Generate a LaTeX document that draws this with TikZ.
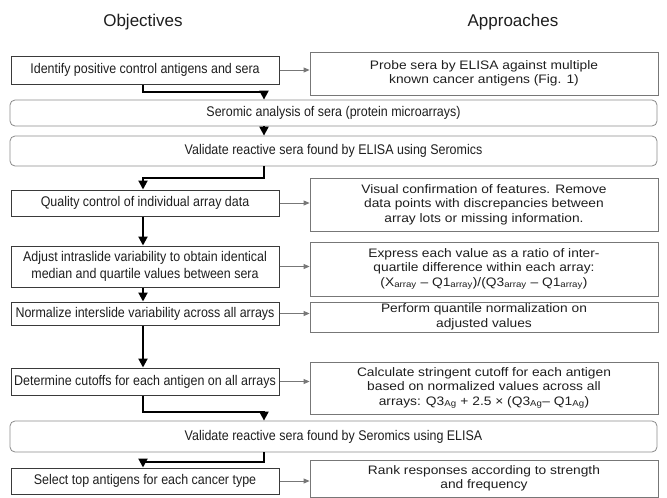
\documentclass[tikz,border=0pt]{standalone}
\usepackage{fontspec}
\setmainfont{Liberation Sans}
\newfontfamily\lfont{Liberation Sans}[FakeStretch=0.89]
\newfontfamily\rfont{Liberation Sans}[FakeStretch=1.12]
\usetikzlibrary{arrows.meta}
\definecolor{txt}{HTML}{1E1E1E}
\definecolor{lborder}{HTML}{3A3A3A}
\definecolor{rborder}{HTML}{777777}
\definecolor{wborder}{HTML}{8A8A8A}
\tikzset{
  lbox/.style={draw=lborder, line width=1pt, minimum width=268pt, inner sep=0pt, align=center, text=txt, font=\lfont\fontsize{14}{17}\selectfont},
  rbox/.style={draw=rborder, line width=0.8pt, minimum width=348pt, inner sep=0pt, align=center, text=txt, font=\rfont\fontsize{12.3}{14.5}\selectfont},
  wbox/.style={draw=wborder, line width=0.8pt, rounded corners=5pt, minimum width=647pt, inner sep=0pt, align=center, text=txt, font=\lfont\fontsize{14}{17}\selectfont},
  head/.style={text=txt, font=\fontsize{17}{20}\selectfont},
  thinarr/.style={draw=rborder, line width=0.8pt, -{Triangle[width=5pt,length=6pt]}},
  flowarr/.style={draw=black, line width=2pt, -{Triangle[width=9pt,length=9pt]}},
}
\begin{document}
\begin{tikzpicture}[x=1pt,y=-1pt]
\useasboundingbox (0,0) rectangle (667,498);
\coordinate (L) at (143,0);
\coordinate (R) at (264,0);
\node[head] (h1) at (143,22) {Objectives};
\node[head] (h2) at (513,22) {Approaches};
% left / wide boxes
\node[lbox, minimum height=28pt] (b1) at (145,70) {Identify positive control antigens and sera};
\node[rbox, minimum height=43pt] (r1) at (484,73.5) {Probe sera by ELISA against multiple\\known cancer antigens (Fig. 1)};
\node[wbox, minimum height=26pt] (b2) at (333.5,113) {Seromic analysis of sera (protein microarrays)};
\node[wbox, minimum height=30pt] (b3) at (333.5,151) {Validate reactive sera found by ELISA using Seromics};
\node[lbox, minimum height=26pt] (b4) at (145,203) {Quality control of individual array data};
\node[rbox, minimum height=53pt] (r4) at (484,204.5) {Visual confirmation of features. Remove\\data points with discrepancies between\\array lots or missing information.};
\node[lbox, minimum height=41pt] (b5) at (145,266.5) {Adjust intraslide variability to obtain identical\\median and quartile values between sera};
\node[rbox, minimum height=54pt] (r5) at (484,269) {Express each value as a ratio of inter-\\quartile difference within each array:\\(X\textsubscript{array} – Q1\textsubscript{array})/(Q3\textsubscript{array} – Q1\textsubscript{array})};
\node[lbox, minimum height=23pt] (b6) at (145,313.5) {Normalize interslide variability across all arrays};
\node[rbox, minimum height=30pt] (r6) at (484,317) {Perform quantile normalization on\\adjusted values};
\node[lbox, minimum height=27pt] (b7) at (145,381.5) {Determine cutoffs for each antigen on all arrays};
\node[rbox, minimum height=52pt] (r7) at (484,388) {Calculate stringent cutoff for each antigen\\based on normalized values across all\\arrays: Q3\textsubscript{Ag} + 2.5 × (Q3\textsubscript{Ag}– Q1\textsubscript{Ag})};
\node[wbox, minimum height=31pt] (b8) at (333.5,436.5) {Validate reactive sera found by Seromics using ELISA};
\node[lbox, minimum height=26pt] (b9) at (145,481) {Select top antigens for each cancer type};
\node[rbox, minimum height=37pt] (r9) at (484,478.5) {Rank responses according to strength\\and frequency};
% thin arrows
\foreach \a/\b in {b1/r1,b4/r4,b5/r5,b6/r6,b7/r7,b9/r9}{
  \draw[thinarr] (\a.east) -- (\a.east -| \b.west);
}
% flow connectors
\draw[flowarr] (b1.south -| L) -- ++(0,7) -| (b2.north -| R);
\draw[flowarr] (b2.south -| R) -- (b3.north -| R);
\draw[flowarr] (b3.south -| R) -- ++(0,12) -| (b4.north -| L);
\draw[flowarr] (b4.south -| L) -- (b5.north -| L);
\draw[flowarr] (b5.south -| L) -- (b6.north -| L);
\draw[flowarr] (b6.south -| L) -- (b7.north -| L);
\draw[flowarr] (b7.south -| L) -- ++(0,16) -| (b8.north -| R);
\draw[flowarr] (b8.south -| R) -- ++(0,10) -| (b9.north -| L);
\end{tikzpicture}
\end{document}
